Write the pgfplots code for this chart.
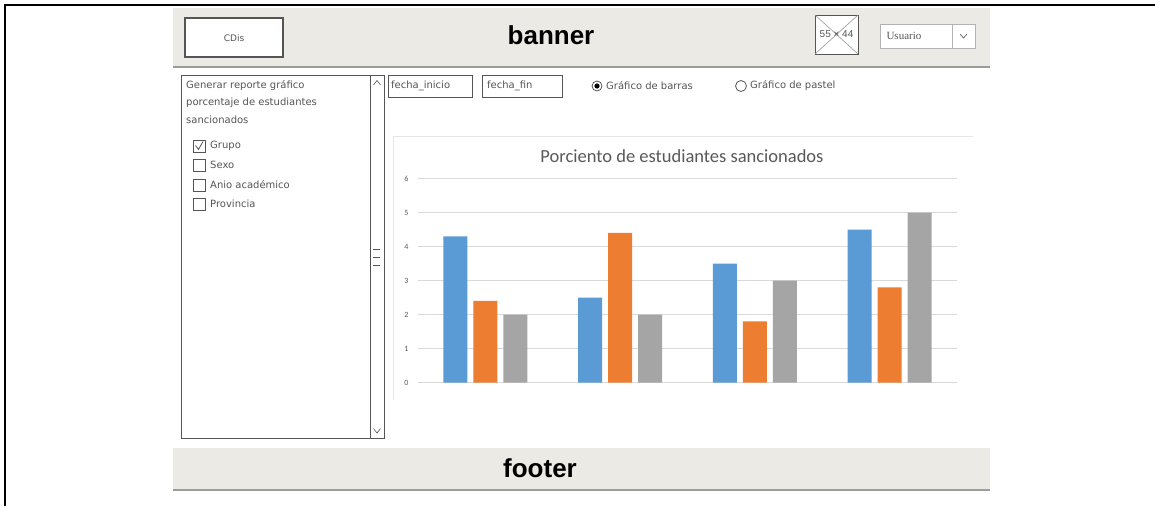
\documentclass[border=0pt]{standalone}
\usepackage{pgfplots}
\pgfplotsset{compat=1.18}
\usepackage{fontspec}
\setmainfont{Carlito}
\newfontfamily\arialf{Liberation Sans}
\newfontfamily\handf{DejaVu Sans}
\newfontfamily\timesf{Liberation Serif}
\definecolor{cblue}{HTML}{5B9BD5}
\definecolor{corange}{HTML}{ED7D31}
\definecolor{cgray}{HTML}{A5A5A5}
\definecolor{bannerbg}{HTML}{ECEAE5}
\definecolor{bannerline}{HTML}{9C9C9C}
\definecolor{wire}{HTML}{555555}
\definecolor{gridc}{HTML}{D9D9D9}
\definecolor{ticktext}{HTML}{595959}
\definecolor{boxline}{HTML}{E6E6E6}

\begin{document}
\begin{tikzpicture}
\begin{scope}[x=1pt,y=-1pt]
\useasboundingbox (0,0) rectangle (1155,506);
\fill[white] (0,0) rectangle (1155,506);
% outer frame
\draw[line width=2pt] (5,506) -- (5,5) -- (1155,5);
% banner
\fill[bannerbg] (173,8) rectangle (990,67);
\draw[bannerline, line width=1.5pt] (173,67) -- (990,67);
\draw[wire, fill=white, line width=1.3pt] (185,18) rectangle (283,57);
\node[font=\handf\fontsize{9}{10}\selectfont, text=wire] at (234,38) {CDis};
\node[font=\arialf\bfseries\fontsize{26}{28}\selectfont] at (551,35) {banner};
% image placeholder
\draw[wire, fill=white, line width=1pt] (815,15) rectangle (858,54);
\draw[wire!60, line width=0.6pt] (815,15) -- (858,54) (815,54) -- (858,15);
\node[font=\arialf\fontsize{10}{11}\selectfont, text=wire] at (836.5,34.5) {55 × 44};
% Usuario dropdown
\draw[gray!60, fill=white, line width=0.8pt] (880,24) rectangle (975,48);
\draw[gray!60, line width=0.8pt] (952,24) -- (952,48);
\node[anchor=west, font=\timesf\fontsize{11}{12}\selectfont, text=wire] at (883,36) {Usuario};
\draw[wire, line width=0.6pt] (960,34) -- (963.5,38) -- (967,34);
% footer
\fill[bannerbg] (173,448) rectangle (990,490);
\draw[bannerline, line width=1.5pt] (173,490) -- (990,490);
\node[font=\arialf\bfseries\fontsize{26}{28}\selectfont] at (540,468) {footer};
% sidebar
\draw[wire, line width=1pt] (181,75) rectangle (384,438);
\draw[wire, line width=1pt] (370,75) -- (370,438);
\draw[wire, line width=0.6pt] (373.5,85) -- (377,80.5) -- (380.5,85);
\draw[wire, line width=0.6pt] (373.5,428.5) -- (377,433) -- (380.5,428.5);
\draw[wire, line width=0.7pt] (373,249) -- (380,249) (373,257) -- (380,257) (373,265) -- (380,265);
\begin{scope}[every node/.style={anchor=west, font=\handf\fontsize{10}{11}\selectfont, text=wire, inner sep=0pt}]
\node at (186,86) {Generar reporte gráfico};
\node at (186,103) {porcentaje de estudiantes};
\node at (186,120) {sancionados};
\node at (210,146) {Grupo};
\node at (210,165) {Sexo};
\node at (210,185) {Anio académico};
\node at (210,204) {Provincia};
\end{scope}
\foreach \yy in {146,165,185,204} {\draw[wire, line width=0.8pt] (193,\yy-6) rectangle (205,\yy+6);}
\draw[wire, line width=0.8pt] (195.5,145.5) -- (198.5,149.5) -- (203,141.5);
% date boxes
\draw[wire, line width=1pt] (388,75) rectangle (472,97);
\draw[wire, line width=1pt] (482,75) rectangle (562,97);
\begin{scope}[every node/.style={anchor=west, font=\handf\fontsize{10}{11}\selectfont, text=wire, inner sep=0pt}]
\node at (391,86) {fecha\_inicio};
\node at (487,86) {fecha\_fin};
\node at (606,86) {Gráfico de barras};
\node at (750,86) {Gráfico de pastel};
\end{scope}
\draw[wire, line width=0.8pt] (597,86) circle (5);
\fill[black] (597,86) circle (2.6);
\draw[wire, line width=0.8pt] (741,86) circle (5.5);
% chart frame
\draw[boxline, line width=0.8pt] (393,400) -- (393,136) -- (973,136);
\node[font=\fontsize{18.5}{20}\selectfont, text=ticktext] at (682,156) {Porciento de estudiantes sancionados};
\end{scope}

\begin{axis}[
  at={(418pt,-382.5pt)}, anchor=south west,
  scale only axis, width=539pt, height=204pt,
  xmin=0.5, xmax=4.5, ymin=0, ymax=6,
  ytick={0,1,2,3,4,5,6}, xtick=\empty,
  ymajorgrids, grid style={gridc, line width=0.8pt},
  axis line style={draw=none},
  major tick length=0pt,
  /pgf/number format/assume math mode=true,
  yticklabel style={font=\fontsize{8}{9}\selectfont, text=ticktext, xshift=-6pt},
  ybar=6pt, bar width=24pt,
]
\addplot[fill=cblue, draw=none] coordinates {(1,4.3) (2,2.5) (3,3.5) (4,4.5)};
\addplot[fill=corange, draw=none] coordinates {(1,2.4) (2,4.4) (3,1.8) (4,2.8)};
\addplot[fill=cgray, draw=none] coordinates {(1,2) (2,2) (3,3) (4,5)};
\end{axis}
\end{tikzpicture}
\end{document}
